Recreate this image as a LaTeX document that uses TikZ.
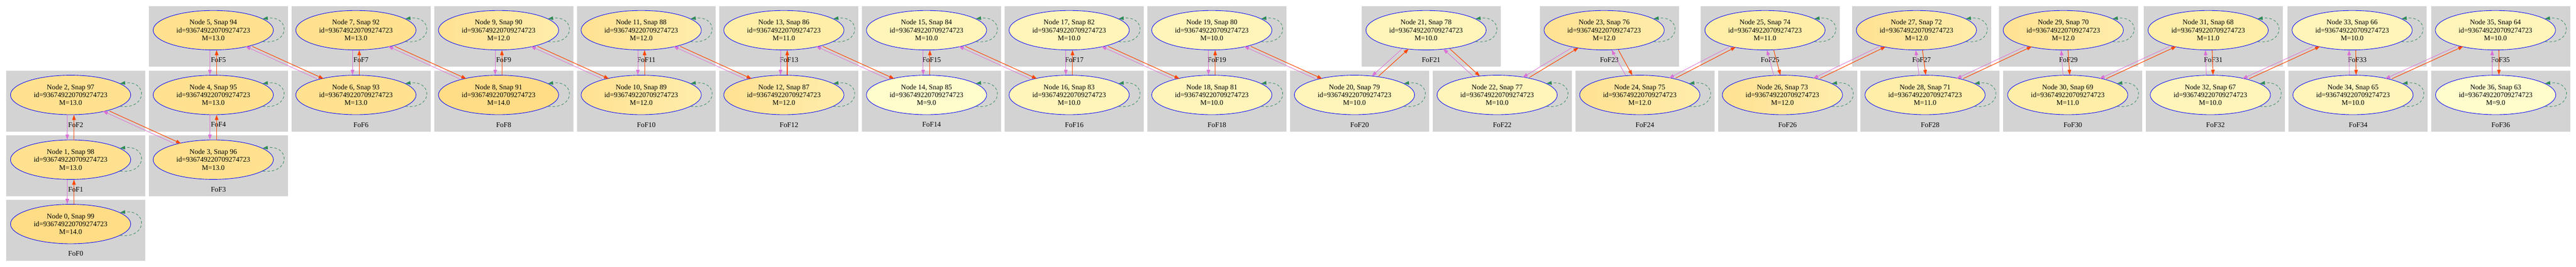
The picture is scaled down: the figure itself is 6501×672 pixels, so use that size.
\documentclass[tikz,border=0pt]{standalone}
\usepackage{fontspec}
\setmainfont{Liberation Serif}
\usetikzlibrary{arrows.meta,shapes.geometric}
\definecolor{clgray}{HTML}{D3D3D3}
\definecolor{vio}{HTML}{DA70D6}
\definecolor{ored}{HTML}{FF4500}
\definecolor{sgreen}{HTML}{2E8B57}
\definecolor{mnine}{HTML}{FFFDCC}
\definecolor{mten}{HTML}{FFF5BA}
\definecolor{meleven}{HTML}{FFEEA8}
\definecolor{mtwelveA}{HTML}{FFE192}
\definecolor{mtwelveB}{HTML}{FFEDAB}
\definecolor{mthirteen}{HTML}{FFE190}
\definecolor{mfourteen}{HTML}{FFDC86}
\tikzset{
  fofnode/.style={ellipse, draw=blue, line width=0.9pt, minimum width=236.3pt,
    minimum height=77.4pt, inner sep=0pt, align=center,
    font=\fontsize{14pt}{15.6pt}\selectfont},
  foflabel/.style={font=\fontsize{14pt}{16pt}\selectfont, inner sep=0pt},
  redge/.style={draw=ored, line width=1.1pt, -{Triangle[length=10pt,width=7pt]}},
  vedge/.style={draw=vio, line width=0.9pt, -{Triangle[length=10pt,width=7pt]}},
  selfloop/.style={draw=sgreen, line width=0.9pt, dash pattern=on 5pt off 4pt,
    -{Triangle[length=10pt,width=7pt]}},
  mnine/.style={fill=mnine},
  mten/.style={fill=mten},
  meleven/.style={fill=meleven},
  mtwelve/.style={left color=mtwelveA, right color=mtwelveB},
  mthirteen/.style={fill=mthirteen},
  mfourteen/.style={fill=mfourteen},
}
% #1 index, #2 left, #3 top, #4 M text, #5 fill style
\newcommand{\fofclu}[5]{%
  \fill[clgray] (#2,#3) rectangle ++(351,153);
  \node[foflabel] (lab#1) at ({#2+175.5},{#3+136}) {FoF#1};
  \node[fofnode,#5] (n#1) at ({#2+162.6},{#3+61})
    {Node #1, Snap \the\numexpr99-#1\relax\\id=936749220709274723\\M=#4};
}
\begin{document}
\begin{tikzpicture}[x=0.7788pt,y=-0.7788pt]
\useasboundingbox (0,0) rectangle (6501,672);
\fofclu{0}{15.6}{503}{14.0}{mfourteen}
\fofclu{1}{15.6}{341}{13.0}{mthirteen}
\fofclu{2}{15.6}{178}{13.0}{mthirteen}
\fofclu{3}{375.6}{341}{13.0}{mthirteen}
\fofclu{4}{375.6}{178}{13.0}{mthirteen}
\fofclu{5}{375.6}{15}{13.0}{mthirteen}
\fofclu{6}{735.6}{178}{13.0}{mthirteen}
\fofclu{7}{735.6}{15}{13.0}{mthirteen}
\fofclu{8}{1095.6}{178}{14.0}{mfourteen}
\fofclu{9}{1095.6}{15}{12.0}{mtwelve}
\fofclu{10}{1455.6}{178}{12.0}{mtwelve}
\fofclu{11}{1455.6}{15}{12.0}{mtwelve}
\fofclu{12}{1815.6}{178}{12.0}{mtwelve}
\fofclu{13}{1815.6}{15}{11.0}{meleven}
\fofclu{14}{2175.6}{178}{9.0}{mnine}
\fofclu{15}{2175.6}{15}{10.0}{mten}
\fofclu{16}{2535.6}{178}{10.0}{mten}
\fofclu{17}{2535.6}{15}{10.0}{mten}
\fofclu{18}{2895.6}{178}{10.0}{mten}
\fofclu{19}{2895.6}{15}{10.0}{mten}
\fofclu{20}{3255.6}{178}{10.0}{mten}
\fofclu{21}{3436.2}{15}{10.0}{mten}
\fofclu{22}{3615.6}{178}{10.0}{mten}
\fofclu{23}{3885.7}{15}{12.0}{mtwelve}
\fofclu{24}{3975.6}{178}{12.0}{mtwelve}
\fofclu{25}{4291.6}{15}{11.0}{meleven}
\fofclu{26}{4335.6}{178}{12.0}{mtwelve}
\fofclu{27}{4673.8}{15}{12.0}{mtwelve}
\fofclu{28}{4695.6}{178}{11.0}{meleven}
\fofclu{29}{5044.4}{15}{12.0}{mtwelve}
\fofclu{30}{5055.6}{178}{11.0}{meleven}
\fofclu{31}{5410}{15}{11.0}{meleven}
\fofclu{32}{5415.6}{178}{10.0}{mten}
\fofclu{33}{5773.4}{15}{10.0}{mten}
\fofclu{34}{5775.6}{178}{10.0}{mten}
\fofclu{35}{6135}{15}{10.0}{mten}
\fofclu{36}{6135.6}{178}{9.0}{mnine}
\foreach \i in {0,...,36} {
  \draw[selfloop] (n\i.-13) .. controls +(70,8) and +(70,-8) .. (n\i.13);
}
\foreach \i [evaluate=\i as \j using int(\i+1)] in {0,...,35} {
  \draw[redge, transform canvas={xshift=6.6pt}] (n\i) -- (n\j);
  \draw[vedge, transform canvas={xshift=-6.6pt}] (n\j) -- (n\i);
}
\end{tikzpicture}
\end{document}
